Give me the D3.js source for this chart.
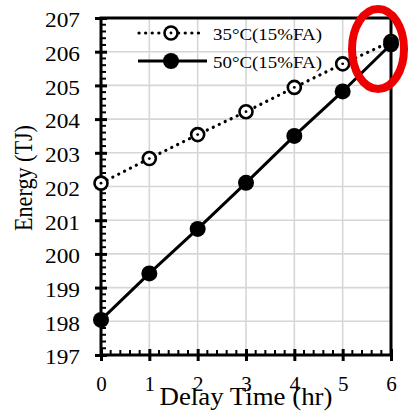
<!DOCTYPE html>
<html><head><meta charset="utf-8">
<script src="https://cdn.jsdelivr.net/npm/d3@7/dist/d3.min.js"></script>
<style>body{margin:0;background:#fff}svg{display:block}</style>
</head><body>
<script>
const delayTime = [0, 1, 2, 3, 4, 5, 6];
const energy35 = [202.1, 202.83, 203.54, 204.22, 204.94, 205.64, 206.3];
const energy50 = [198.04, 199.42, 200.74, 202.11, 203.5, 204.82, 206.22];
const seriesNames = ["35°C(15%FA)", "50°C(15%FA)"];
const yTicks = [197, 198, 199, 200, 201, 202, 203, 204, 205, 206, 207];
const xTicks = [0, 1, 2, 3, 4, 5, 6];

const W = 419, H = 416;
const svg = d3.select("body").append("svg").attr("width", W).attr("height", H);
const L = 101, R = 391, T = 18, B = 355;
const x = d3.scaleLinear().domain([0, 6]).range([L, R]);
const y = d3.scaleLinear().domain([197, 207]).range([B, T]);
const font = "'Liberation Serif','Times New Roman',serif";

// grid
svg.append("g").selectAll("line").data(yTicks.slice(1, -1)).join("line")
  .attr("x1", L).attr("x2", R).attr("y1", d => y(d)).attr("y2", d => y(d))
  .attr("stroke", "#d6d6d6").attr("stroke-width", 1.6);
svg.append("g").selectAll("line").data(xTicks.slice(1, -1)).join("line")
  .attr("y1", T).attr("y2", B).attr("x1", d => x(d)).attr("x2", d => x(d))
  .attr("stroke", "#d6d6d6").attr("stroke-width", 1.6);

// frame
svg.append("rect").attr("x", L).attr("y", T).attr("width", R - L).attr("height", B - T)
  .attr("fill", "none").attr("stroke", "#000").attr("stroke-width", 3);

// minor ticks
const yMinor = d3.range(197, 207.001, 0.2).filter(v => Math.abs(v - Math.round(v)) > 0.01);
svg.append("g").selectAll("line").data(yMinor).join("line")
  .attr("x1", L).attr("x2", L + 5).attr("y1", d => y(d)).attr("y2", d => y(d))
  .attr("stroke", "#000").attr("stroke-width", 2);
const xMinor = d3.range(0, 6.001, 0.2).filter(v => Math.abs(v - Math.round(v)) > 0.01);
svg.append("g").selectAll("line").data(xMinor).join("line")
  .attr("y1", B).attr("y2", B - 5).attr("x1", d => x(d)).attr("x2", d => x(d))
  .attr("stroke", "#000").attr("stroke-width", 2);

// axes
const yAxis = svg.append("g").attr("transform", `translate(${L},0)`)
  .call(d3.axisLeft(y).tickValues(yTicks).tickFormat(d3.format("d")).tickSize(5).tickPadding(16).tickSizeOuter(0));
yAxis.select(".domain").remove();
yAxis.selectAll(".tick line").attr("stroke-width", 3).attr("x2", -6).attr("x1", 6);
yAxis.selectAll("text").attr("font-family", font).attr("font-size", 21).attr("fill", "#000")
  .attr("dy", "0.42em").attr("textLength", 35).attr("lengthAdjust", "spacingAndGlyphs");

const xAxis = svg.append("g").attr("transform", `translate(0,${B})`)
  .call(d3.axisBottom(x).tickValues(xTicks).tickFormat(d3.format("d")).tickSize(5).tickPadding(16).tickSizeOuter(0));
xAxis.select(".domain").remove();
xAxis.selectAll(".tick line").attr("stroke-width", 3).attr("y1", -6).attr("y2", 6);
xAxis.selectAll("text").attr("font-family", font).attr("font-size", 21).attr("fill", "#000");

// titles
svg.append("text").attr("transform", `translate(32,178) rotate(-90)`)
  .attr("text-anchor", "middle").attr("font-family", font).attr("font-size", 25)
  .attr("textLength", 106).attr("lengthAdjust", "spacingAndGlyphs").text("Energy (TJ)");
svg.append("text").attr("x", 246).attr("y", 405)
  .attr("text-anchor", "middle").attr("font-family", font).attr("font-size", 25)
  .attr("textLength", 173).attr("lengthAdjust", "spacingAndGlyphs").text("Delay Time (hr)");

// lines
const line = d3.line().x((d, i) => x(delayTime[i])).y(d => y(d));
svg.append("path").datum(energy35).attr("d", line).attr("fill", "none")
  .attr("stroke", "#000").attr("stroke-width", 3.2).attr("stroke-linecap", "round").attr("stroke-dasharray", "0.1 6.5");
svg.append("path").datum(energy50).attr("d", line).attr("fill", "none")
  .attr("stroke", "#000").attr("stroke-width", 3);

function openMarker(g, cx, cy) {
  g.append("circle").attr("cx", cx).attr("cy", cy).attr("r", 6.5)
    .attr("fill", "#fff").attr("stroke", "#000").attr("stroke-width", 2.6);
  g.append("circle").attr("cx", cx).attr("cy", cy).attr("r", 1.4).attr("fill", "#000");
}
const g35 = svg.append("g");
energy35.forEach((v, i) => openMarker(g35, x(delayTime[i]), y(v)));
svg.append("g").selectAll("circle").data(energy50).join("circle")
  .attr("cx", (d, i) => x(delayTime[i])).attr("cy", d => y(d)).attr("r", 8).attr("fill", "#000");

// legend
const lg = svg.append("g");
lg.append("line").attr("x1", 139).attr("x2", 203).attr("y1", 33).attr("y2", 33)
  .attr("stroke", "#000").attr("stroke-width", 3.2).attr("stroke-linecap", "round").attr("stroke-dasharray", "0.1 6.5");
openMarker(lg, 171, 33);
lg.append("line").attr("x1", 138).attr("x2", 207).attr("y1", 61).attr("y2", 61)
  .attr("stroke", "#000").attr("stroke-width", 3);
lg.append("circle").attr("cx", 171).attr("cy", 61).attr("r", 8).attr("fill", "#000");
lg.selectAll("text").data(seriesNames).join("text")
  .attr("x", 213).attr("y", (d, i) => 40 + i * 28)
  .attr("font-family", font).attr("font-size", 17.5)
  .attr("textLength", 109).attr("lengthAdjust", "spacingAndGlyphs").text(d => d);

// red highlight ellipse
svg.append("ellipse").attr("cx", 378).attr("cy", 49).attr("rx", 26).attr("ry", 40)
  .attr("fill", "none").attr("stroke", "#ee0000").attr("stroke-width", 8);
</script>
</body></html>
